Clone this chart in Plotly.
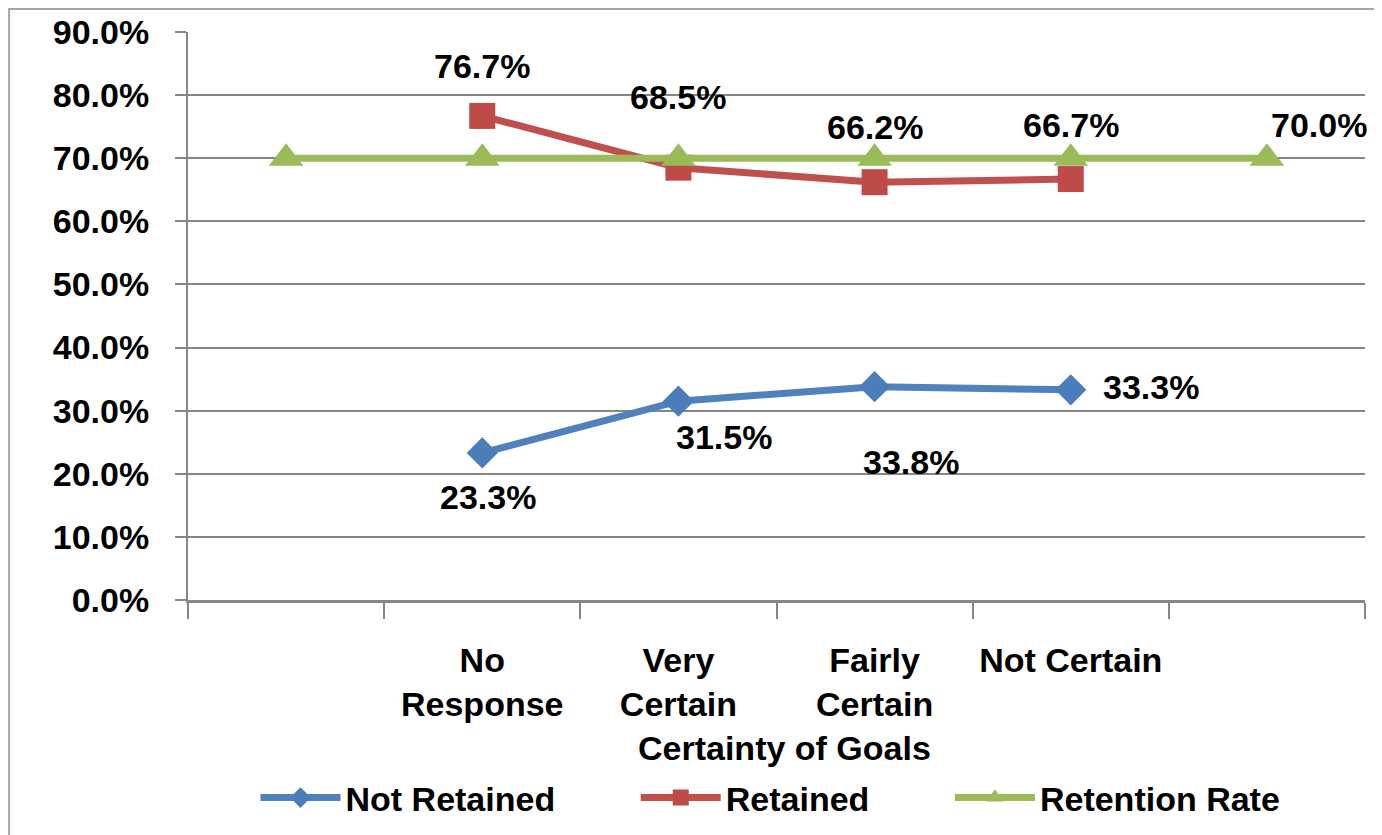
import plotly.graph_objects as go

# categories (first and last slots are empty in the original chart)
categories = [" ", "No<br>Response", "Very<br>Certain", "Fairly<br>Certain", "Not Certain", "  "]
not_retained = [None, 0.233, 0.315, 0.338, 0.333, None]
retained = [None, 0.767, 0.685, 0.662, 0.667, None]
retention_rate = [0.70, 0.70, 0.70, 0.70, 0.70, 0.70]
y_ticks = [0.0, 0.1, 0.2, 0.3, 0.4, 0.5, 0.6, 0.7, 0.8, 0.9]

FONT = "Liberation Sans"
GRID = "#868686"
bold = dict(family=FONT, size=34, color="black", weight="bold")
PAD = "\u00a0" * 8  # extra room between legend entries

fig = go.Figure()
fig.add_trace(go.Scatter(x=categories, y=not_retained, name="Not Retained" + PAD, mode="lines+markers",
                         line=dict(color="#4F81BD", width=7),
                         marker=dict(symbol="diamond", size=24, color="#4A7EBB")))
fig.add_trace(go.Scatter(x=categories, y=retained, name="Retained" + PAD, mode="lines+markers",
                         line=dict(color="#C0504D", width=7),
                         marker=dict(symbol="square", size=26, color="#BE4B48")))
fig.add_trace(go.Scatter(x=categories, y=retention_rate, name="Retention Rate", mode="lines+markers",
                         line=dict(color="#9BBB59", width=7),
                         marker=dict(symbol="triangle-up", size=30, color="#9BBB59")))

# data labels, offsets (px)
nr_off = [None, (6, -44), (46, -36), (36, -75), (80, 3), None]
r_off = [None, (0, 50), (0, 71), (0, 55), (0, 54), None]
for series, offs in ((not_retained, nr_off), (retained, r_off)):
    for c, v, o in zip(categories, series, offs):
        if v is None:
            continue
        fig.add_annotation(x=c, y=v, text=f"{v*100:.1f}%", showarrow=False,
                           xshift=o[0], yshift=o[1], font=bold)
fig.add_annotation(x=categories[-1], y=retention_rate[-1], text=f"{retention_rate[-1]*100:.1f}%",
                   showarrow=False, xshift=52, yshift=33, font=bold)

# axis title sits over the second row of tick labels, like in Excel
fig.add_annotation(xref="paper", yref="paper", x=0.5, y=0, xshift=8, yshift=-148,
                   yanchor="middle", text="Certainty of Goals", showarrow=False, font=bold)

# outer chart border (cropped at right/bottom in the reference)
fig.add_shape(type="rect", xref="paper", yref="paper", x0=-0.152, x1=1.2, y0=-0.6, y1=1.0405,
              line=dict(color="#A6A6A6", width=2), layer="below")

fig.update_xaxes(type="category", categoryorder="array", categoryarray=categories,
                 range=[-0.5, len(categories) - 0.5],
                 tickson="boundaries", ticks="outside", ticklen=16, tickwidth=2, tickcolor=GRID,
                 showline=True, linecolor=GRID, linewidth=3, showgrid=False,
                 tickfont=bold, ticklabelstandoff=28)
fig.update_yaxes(range=[0, 0.9], tickvals=y_ticks, tickformat=".1%",
                 ticks="outside", ticklen=11, tickwidth=2, tickcolor=GRID,
                 showline=True, linecolor=GRID, linewidth=2,
                 showgrid=True, gridcolor=GRID, gridwidth=2, zeroline=False,
                 tickfont=bold, ticklabelstandoff=19)

fig.update_layout(
    width=1382, height=835,
    margin=dict(l=180, r=25, t=24, b=243, autoexpand=False),
    plot_bgcolor="white", paper_bgcolor="white",
    font=dict(family=FONT, size=34, color="black"),
    legend=dict(orientation="h", x=0.4949, xanchor="center", y=-0.3486, yanchor="middle",
                font=bold, itemwidth=80, entrywidth=0, bgcolor="rgba(0,0,0,0)"),
    showlegend=True,
)

fig.write_html("out.html")
